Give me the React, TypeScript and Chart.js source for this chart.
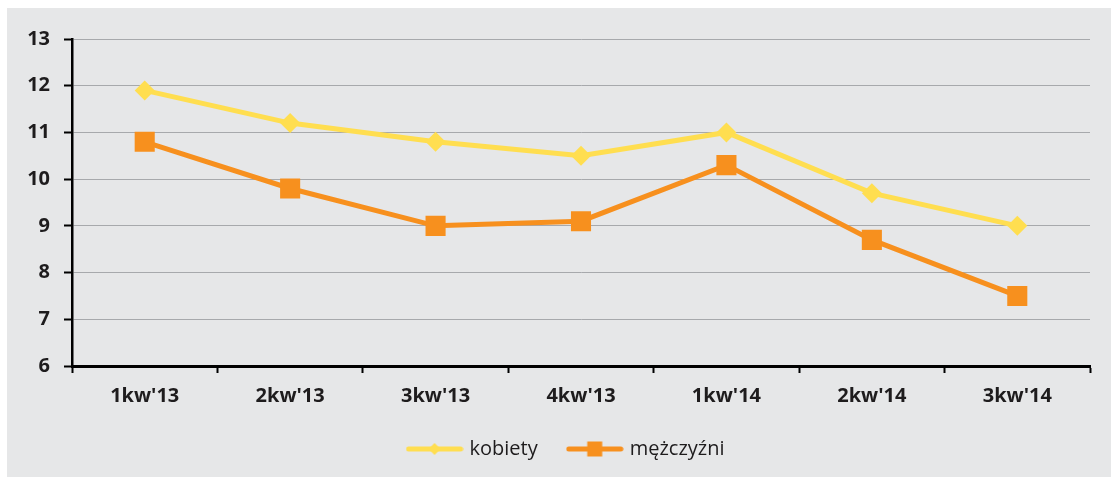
import React, { useEffect, useRef } from "react";
import { Chart, registerables } from "chart.js";

Chart.register(...registerables);

const categories = ["1kw'13", "2kw'13", "3kw'13", "4kw'13", "1kw'14", "2kw'14", "3kw'14"];
const kobiety = [11.9, 11.2, 10.8, 10.5, 11.0, 9.7, 9.0];
const mezczyzni = [10.8, 9.8, 9.0, 9.1, 10.3, 8.7, 7.5];
const seriesNames = ["kobiety", "mężczyźni"];
const yMin = 6;
const yMax = 13;
const yStep = 1;

const YELLOW = "#FFDE50";
const ORANGE = "#F7901E";
const BG = "#E6E7E8";
const GRID = "#A7A9AC";
const TEXT = "#1E1C1D";

function makeLegendIcon(color: string, kind: "diamond" | "square"): HTMLCanvasElement {
  const c = document.createElement("canvas");
  c.width = 58;
  c.height = 22;
  const ctx = c.getContext("2d")!;
  ctx.strokeStyle = color;
  ctx.lineWidth = 5;
  ctx.lineCap = "round";
  ctx.beginPath();
  ctx.moveTo(3, 11);
  ctx.lineTo(55, 11);
  ctx.stroke();
  ctx.fillStyle = color;
  ctx.beginPath();
  if (kind === "diamond") {
    ctx.moveTo(29 - 6, 11);
    ctx.lineTo(29, 11 - 6);
    ctx.lineTo(29 + 6, 11);
    ctx.lineTo(29, 11 + 6);
    ctx.closePath();
  } else {
    ctx.rect(29 - 7.5, 11 - 7.5, 15, 15);
  }
  ctx.fill();
  return c;
}

const legendShift = {
  id: "legendShift",
  afterLayout(chart: any) {
    if (chart.legend) {
      chart.legend.left += 18.5;
      chart.legend.right += 18.5;
    }
  },
};

export default function App() {
  const ref = useRef<HTMLCanvasElement | null>(null);

  useEffect(() => {
    if (!ref.current) return;
    const icons = [makeLegendIcon(YELLOW, "diamond"), makeLegendIcon(ORANGE, "square")];
    const chart = new Chart(ref.current, {
      type: "line",
      data: {
        labels: categories,
        datasets: [
          {
            label: seriesNames[0],
            data: kobiety,
            borderColor: YELLOW,
            backgroundColor: YELLOW,
            borderWidth: 5,
            pointStyle: "rectRot",
            pointRadius: 10,
            pointBorderWidth: 0,
            pointBackgroundColor: YELLOW,
            tension: 0,
          },
          {
            label: seriesNames[1],
            data: mezczyzni,
            borderColor: ORANGE,
            backgroundColor: ORANGE,
            borderWidth: 5,
            pointStyle: "rect",
            pointRadius: 14.2,
            pointBorderWidth: 0,
            pointBackgroundColor: ORANGE,
            tension: 0,
          },
        ],
      },
      plugins: [legendShift],
      options: {
        animation: false,
        responsive: false,
        layout: { padding: { left: 0, right: 21, top: 31, bottom: 8 } },
        plugins: {
          tooltip: { enabled: false },
          legend: {
            position: "bottom",
            labels: {
              usePointStyle: true,
              pointStyleWidth: 50,
              padding: 32,
              color: TEXT,
              font: { family: "'Open Sans', sans-serif", size: 20 },
              generateLabels: (ch: any) =>
                ch.data.datasets.map((ds: any, i: number) => ({
                  text: ds.label,
                  pointStyle: icons[i],
                  fillStyle: ds.borderColor,
                  strokeStyle: ds.borderColor,
                  lineWidth: 0,
                  hidden: false,
                  datasetIndex: i,
                  fontColor: TEXT,
                })),
            },
          },
        },
        scales: {
          x: {
            offset: true,
            grid: {
              offset: true,
              drawOnChartArea: false,
              drawTicks: true,
              tickLength: 7,
              tickColor: "#000",
              tickWidth: 2,
            },
            border: { display: true, color: "#000", width: 3 },
            ticks: {
              color: TEXT,
              padding: 11,
              maxRotation: 0,
              font: { family: "'Open Sans', sans-serif", size: 20, weight: "bold" },
            },
            afterFit: (s: any) => {
              s.height = 41;
            },
          },
          y: {
            min: yMin,
            max: yMax,
            ticks: {
              stepSize: yStep,
              color: TEXT,
              padding: 14,
              font: { family: "'Open Sans', sans-serif", size: 20, weight: "bold" },
            },
            grid: {
              color: GRID,
              lineWidth: 1,
              tickLength: 8,
              tickColor: "#000",
              tickWidth: 2,
            },
            border: { display: true, color: "#000", width: 2.5 },
            afterFit: (s: any) => {
              s.width = 65;
            },
          },
        },
      },
    });
    return () => chart.destroy();
  }, []);

  return (
    <div
      style={{
        position: "fixed",
        left: 7,
        top: 8,
        width: 1104,
        height: 469,
        background: BG,
      }}
    >
      <canvas ref={ref} width={1104} height={469} style={{ display: "block", width: 1104, height: 469 }} />
    </div>
  );
}
